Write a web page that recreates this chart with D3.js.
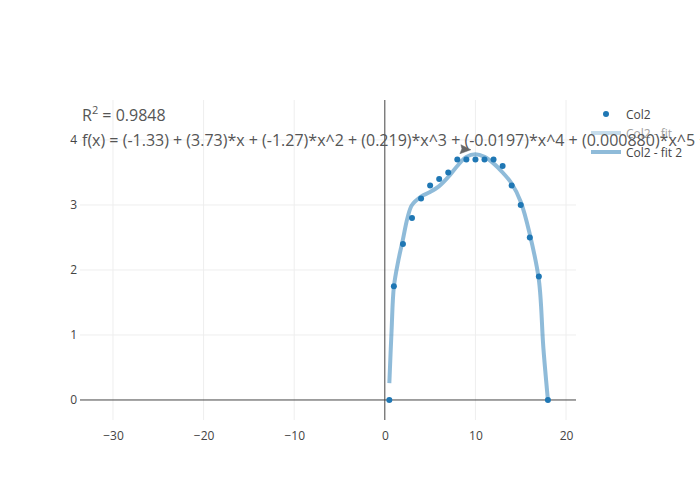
<!DOCTYPE html>
<html>
<head>
<meta charset="utf-8">
<script src="https://cdn.jsdelivr.net/npm/d3@7"></script>
<style>
  body { margin: 0; background: #fff; }
  svg { font-family: "Open Sans", "Noto Sans", sans-serif; }
</style>
</head>
<body>
<div id="chart"></div>
<script>
// data
var col2X = [0.5, 1, 2, 3, 4, 5, 6, 7, 8, 9, 10, 11, 12, 13, 14, 15, 16, 17, 18];
var col2Y = [0, 1.75, 2.4, 2.8, 3.1, 3.3, 3.4, 3.5, 3.7, 3.7, 3.7, 3.7, 3.7, 3.6, 3.3, 3.0, 2.5, 1.9, 0];

// fitted curve, sampled from the drawn line
var fitX = [0.5, 0.75, 1, 1.5, 2, 2.5, 3, 4, 5, 6, 7, 8, 9, 10, 11, 12, 13, 14, 15, 16, 17, 17.5, 18];
var fitY = [0.26, 1.08, 1.74, 2.15, 2.47, 2.8, 3.0, 3.13, 3.2, 3.29, 3.43, 3.6, 3.74, 3.78, 3.74, 3.64, 3.5, 3.33, 3.05, 2.55, 1.85, 0.8, 0];

var xTicks = [-30, -20, -10, 0, 10, 20];
var yTicks = [0, 1, 2, 3, 4];
var legendNames = ["Col2", "Col2 - fit", "Col2 - fit 2"];
var annoLines = ["R<tspan baseline-shift='super' font-size='11'>2</tspan> = 0.9848",
  "f(x) = (-1.33) + (3.73)*x + (-1.27)*x^2 + (0.219)*x^3 + (-0.0197)*x^4 + (0.000880)*x^5 + ..."];

var W = 700, H = 500;
var margin = {top: 100, right: 124, bottom: 80, left: 80},
    width = W - margin.left - margin.right,
    height = H - margin.top - margin.bottom;

var x = d3.scaleLinear().domain([-33.64, 21.1]).range([0, width]);
var y = d3.scaleLinear().domain([-0.308, 4.615]).range([height, 0]);

var svg = d3.select("#chart").append("svg")
    .attr("width", W)
    .attr("height", H);

var g = svg.append("g")
    .attr("transform", "translate(" + margin.left + "," + margin.top + ")");

// grid
g.append("g").selectAll("line")
    .data(xTicks.filter(function(d) { return d !== 0; }))
    .enter().append("line")
    .attr("x1", function(d) { return x(d); }).attr("x2", function(d) { return x(d); })
    .attr("y1", 0).attr("y2", height)
    .attr("stroke", "#eee").attr("stroke-width", 1);

g.append("g").selectAll("line")
    .data(yTicks.filter(function(d) { return d !== 0; }))
    .enter().append("line")
    .attr("x1", 0).attr("x2", width)
    .attr("y1", function(d) { return y(d); }).attr("y2", function(d) { return y(d); })
    .attr("stroke", "#eee").attr("stroke-width", 1);

// zero lines
g.append("line")
    .attr("x1", x(0)).attr("x2", x(0)).attr("y1", 0).attr("y2", height)
    .attr("stroke", "#444").attr("stroke-width", 1);
g.append("line")
    .attr("x1", 0).attr("x2", width).attr("y1", y(0)).attr("y2", y(0))
    .attr("stroke", "#444").attr("stroke-width", 1);

// axes
var xAxis = g.append("g")
    .attr("transform", "translate(0," + height + ")")
    .call(d3.axisBottom(x).tickValues(xTicks).tickSize(0).tickPadding(11)
      .tickFormat(function(d) { return d < 0 ? "\u2212" + Math.abs(d) : d; }));
var yAxis = g.append("g")
    .call(d3.axisLeft(y).tickValues(yTicks).tickSize(0).tickPadding(3)
      .tickFormat(d3.format("d")));
[xAxis, yAxis].forEach(function(a) {
  a.select(".domain").remove();
  a.selectAll("text").attr("fill", "#444").style("font-size", "12px")
    .style("font-family", "'Open Sans', sans-serif");
});

// fit line
var fitLine = d3.line()
    .x(function(d, i) { return x(fitX[i]); })
    .y(function(d, i) { return y(d); })
    .curve(d3.curveCatmullRom.alpha(0.5));

g.append("path")
    .datum(fitY)
    .attr("d", fitLine)
    .attr("fill", "none")
    .attr("stroke", "rgba(31,119,180,0.5)")
    .attr("stroke-width", 4);

// points
g.append("g").selectAll("circle")
    .data(col2Y)
    .enter().append("circle")
    .attr("cx", function(d, i) { return x(col2X[i]); })
    .attr("cy", function(d) { return y(d); })
    .attr("r", 3)
    .attr("fill", "#1f77b4");

// legend
var legend = svg.append("g").attr("transform", "translate(591,114)");
legendNames.forEach(function(name, i) {
  var row = legend.append("g").attr("transform", "translate(0," + (i * 19) + ")")
      .attr("opacity", i === 1 ? 0.5 : 1);
  if (i === 0) {
    row.append("circle").attr("cx", 15).attr("cy", 0).attr("r", 3).attr("fill", "#1f77b4");
  } else {
    row.append("line").attr("x1", 0).attr("x2", 30).attr("y1", 0).attr("y2", 0)
      .attr("stroke", "rgba(31,119,180,0.5)").attr("stroke-width", 4);
  }
  row.append("text").attr("x", 35).attr("y", 4.5)
    .attr("fill", "#444").style("font-size", "12px").text(name);
});

// annotation with arrow
var tipX = margin.left + x(9.5), tipY = margin.top + y(3.85);
var arrow = svg.append("g");
arrow.append("line")
    .attr("x1", tipX - 9).attr("y1", tipY - 2)
    .attr("x2", tipX - 2).attr("y2", tipY)
    .attr("stroke", "#444").attr("stroke-width", 1);
arrow.append("path")
    .attr("d", "M" + tipX + "," + tipY + " l-10,-5 l1,4 l-2,5 z")
    .attr("fill", "#666").attr("stroke", "#666").attr("stroke-width", 0.5);

var anno = svg.append("text")
    .attr("fill", "#555")
    .style("font-size", "16px");
annoLines.forEach(function(t, i) {
  anno.append("tspan").attr("x", 82).attr("y", 121 + i * 25).html(t);
});
</script>
</body>
</html>
